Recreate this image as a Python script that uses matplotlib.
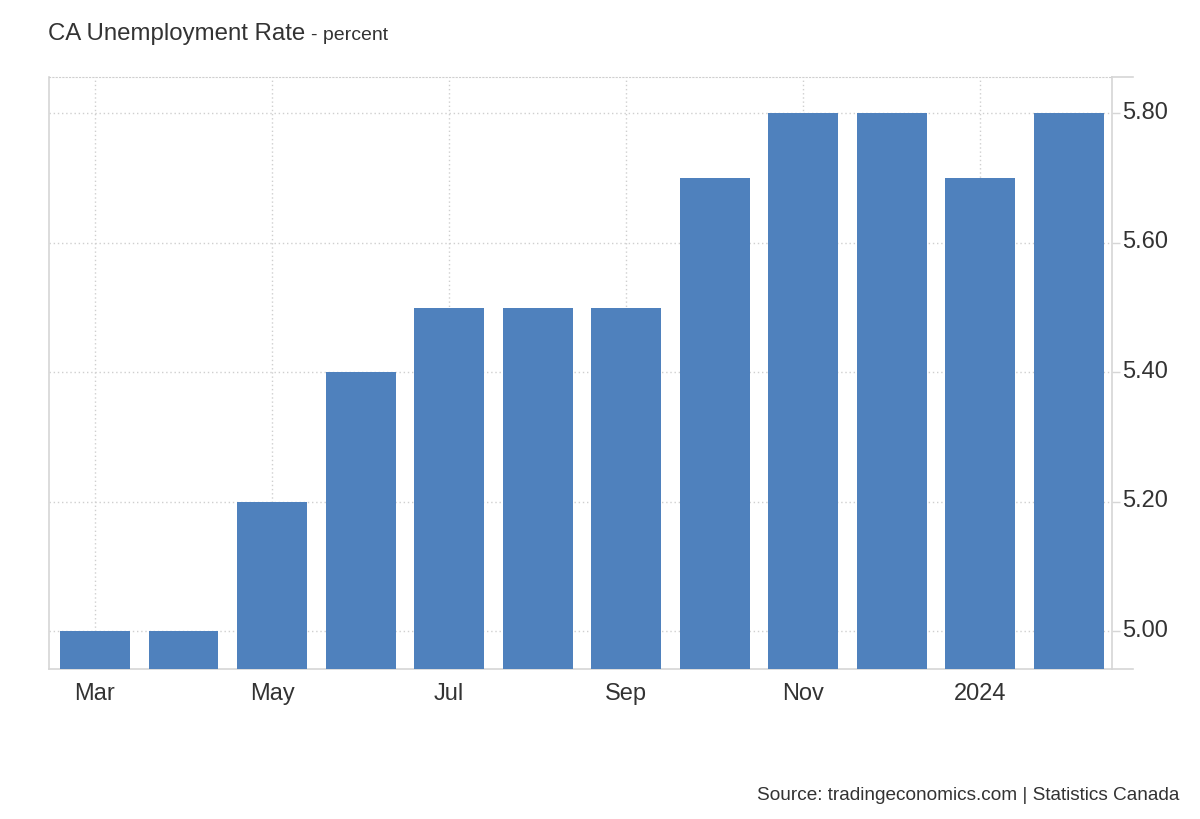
import matplotlib.pyplot as plt
import matplotlib.transforms as mtransforms
import numpy as np

plt.rcParams["font.family"] = ["Liberation Sans", "DejaVu Sans"]

# データ（2023年3月〜2024年2月）
months = ["Mar", "Apr", "May", "Jun", "Jul", "Aug", "Sep", "Oct", "Nov", "Dec", "Jan", "Feb"]
rate = [5.0, 5.0, 5.2, 5.4, 5.5, 5.5, 5.5, 5.7, 5.8, 5.8, 5.7, 5.8]
tick_pos = [0, 2, 4, 6, 8, 10]
tick_labels = ["Mar", "May", "Jul", "Sep", "Nov", "2024"]
y_ticks = [5.0, 5.2, 5.4, 5.6, 5.8]

bar_color = "#4f81bd"
text_color = "#333333"
line_color = "#d6d6d6"

fig = plt.figure(figsize=(12, 8.2), dpi=100)
ax = fig.add_axes([0.0408, 0.1829, 0.8859, 0.7220])

x = np.arange(len(months))
ax.bar(x, rate, width=0.79, color=bar_color, zorder=3)

ax.set_xlim(-0.52, 11.49)
ax.set_ylim(4.942, 5.856)

ax.set_xticks(tick_pos)
ax.set_xticklabels(tick_labels)
ax.set_yticks(y_ticks)
ax.set_yticklabels(["%.2f" % v for v in y_ticks])
ax.yaxis.tick_right()

ax.tick_params(axis="x", length=0, pad=9, labelsize=17, colors=text_color)
ax.tick_params(axis="y", length=6, width=1, color=line_color, pad=1, labelsize=17, labelcolor=text_color)

# 右の数値ラベルは少し上にずらす
shift = mtransforms.ScaledTranslation(0, 4 / 100, fig.dpi_scale_trans)
for lbl in ax.get_yticklabels():
    lbl.set_transform(lbl.get_transform() + shift)

ax.grid(True, linestyle=(0, (1, 2)), color="#cfcfcf", linewidth=1, zorder=0)

for side in ["left", "right", "bottom"]:
    ax.spines[side].set_color(line_color)
    ax.spines[side].set_linewidth(1.2)
ax.spines["top"].set_color("#cfcfcf")
ax.spines["top"].set_linestyle((0, (1, 2)))

# 右側の上端・下端の目盛り
for yy in [0.0, 1.0]:
    ax.plot([1.0, 1.02], [yy, yy], transform=ax.transAxes, color=line_color, lw=1.2, clip_on=False)

fig.text(0.04, 0.959, "CA Unemployment Rate", fontsize=17.3, color=text_color, va="center")
fig.text(0.259, 0.957, "- percent", fontsize=14, color=text_color, va="center")
fig.text(0.9825, 0.0295, "Source: tradingeconomics.com | Statistics Canada", fontsize=13.7,
         color=text_color, ha="right", va="center")

fig.savefig("out.png", dpi=100)
